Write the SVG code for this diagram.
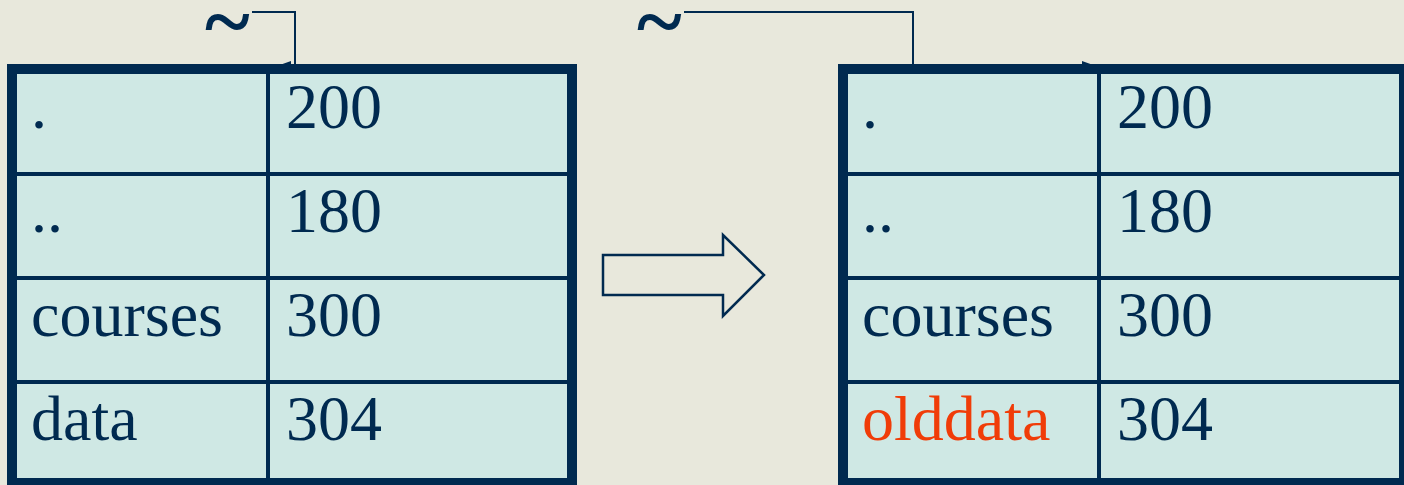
<svg xmlns="http://www.w3.org/2000/svg" width="1404" height="485" viewBox="0 0 1404 485">
  <style>
    .bg { fill: #e8e8dc; }
    .cell { fill: #cfe8e4; }
    .frame { fill: none; stroke: #002a50; stroke-width: 10; }
    .grid { stroke: #002a50; stroke-width: 4; fill: none; }
    .txt { font-family: "Liberation Serif", "Times New Roman", serif; font-size: 64px; fill: #002a50; }
    .hl { fill: #f03c08; }
    .tilde { font-family: "Liberation Serif", "Times New Roman", serif; font-weight: bold; font-size: 86px; fill: #002a50; }
    .link { fill: none; stroke: #002a50; stroke-width: 2; }
    .bigarrow { fill: none; stroke: #002a50; stroke-width: 2.5; }
  </style>
  <defs>
    <marker id="head" viewBox="0 0 14 10" refX="14" refY="5" markerWidth="14" markerHeight="10" markerUnits="userSpaceOnUse" orient="auto">
      <path d="M0,0 L14,5 L0,10 z" fill="#002a50"/>
    </marker>
  </defs>

  <rect class="bg" x="0" y="0" width="1404" height="485"/>

  <!-- directory before rename -->
  <g id="dir-before">
    <rect class="cell" x="12" y="69" width="560" height="414"/>
    <line class="grid" x1="12" y1="174" x2="572" y2="174"/>
    <line class="grid" x1="12" y1="278" x2="572" y2="278"/>
    <line class="grid" x1="12" y1="382" x2="572" y2="382"/>
    <line class="grid" x1="268" y1="69" x2="268" y2="483"/>
    <rect class="frame" x="12" y="69" width="560" height="414"/>
    <text class="txt" x="31" y="128">.</text>
    <text class="txt" x="286" y="128">200</text>
    <text class="txt" x="31" y="232">..</text>
    <text class="txt" x="286" y="232">180</text>
    <text class="txt" x="31" y="336">courses</text>
    <text class="txt" x="286" y="336">300</text>
    <text class="txt" x="31" y="440">data</text>
    <text class="txt" x="286" y="440">304</text>
  </g>

  <!-- directory after rename -->
  <g id="dir-after">
    <rect class="cell" x="843" y="69" width="561" height="414"/>
    <line class="grid" x1="843" y1="174" x2="1404" y2="174"/>
    <line class="grid" x1="843" y1="278" x2="1404" y2="278"/>
    <line class="grid" x1="843" y1="382" x2="1404" y2="382"/>
    <line class="grid" x1="1099" y1="69" x2="1099" y2="483"/>
    <rect class="frame" x="843" y="69" width="561" height="414"/>
    <text class="txt" x="862" y="128">.</text>
    <text class="txt" x="1117" y="128">200</text>
    <text class="txt" x="862" y="232">..</text>
    <text class="txt" x="1117" y="232">180</text>
    <text class="txt" x="862" y="336">courses</text>
    <text class="txt" x="1117" y="336">300</text>
    <text class="txt hl" x="862" y="440">olddata</text>
    <text class="txt" x="1117" y="440">304</text>
  </g>

  <!-- home-directory pointers -->
  <g id="home-before">
    <text class="tilde" x="205" y="50">~</text>
  </g>
  <g id="home-after">
    <text class="tilde" x="637" y="50">~</text>
  </g>

  <!-- transition arrow -->
  <g id="transition">
    <polygon class="bigarrow" points="603,255 723,255 723,235 764,275 723,316 723,295 603,295"/>
  </g>

  <g id="connectors">
    <path class="link" d="M252,12 H295 V66 H277" marker-end="url(#head)"/>
    <path class="link" d="M684,12 H913 V66 H1096" marker-end="url(#head)"/>
  </g>
</svg>
